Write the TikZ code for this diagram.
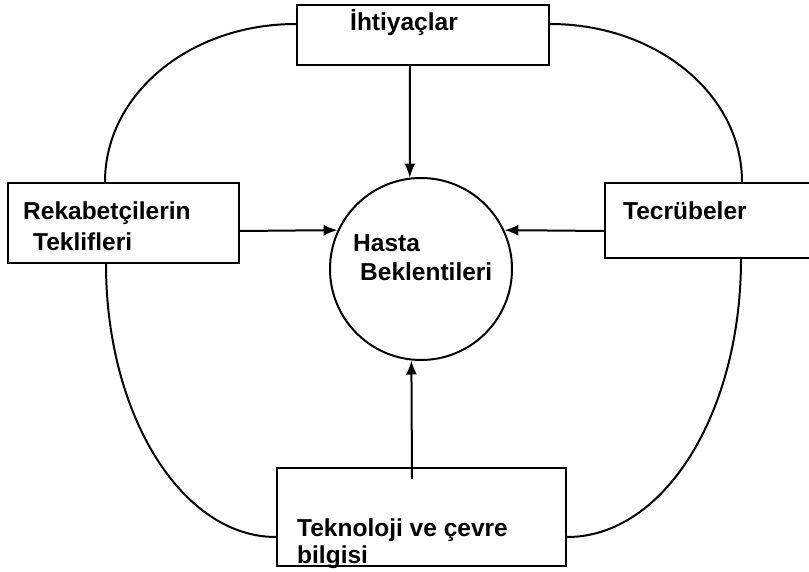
\documentclass[tikz,border=0pt]{standalone}
\usepackage{fontspec}
\setmainfont{Liberation Sans}
\usetikzlibrary{arrows.meta}
\begin{document}
\begin{tikzpicture}[x=1pt,y=-1pt,
  box/.style={draw,line width=2.2pt,inner sep=0pt,minimum width=#1},
  lbl/.style={inner sep=0pt,anchor=base west,font=\bfseries\fontsize{24.5}{29}\selectfont},
  ln/.style={line width=2pt},
  arr/.style={line width=2pt,-{Latex[length=14pt,width=11pt]}}]
\useasboundingbox (0,0) rectangle (809,572);
\fill[white] (0,0) rectangle (809,572);
% boxes
\node[box=252pt,minimum height=60pt] (ihti) at (423,35) {};
\node[box=231pt,minimum height=80pt] (lbox) at (123.5,223) {};
\node[box=235pt,minimum height=75pt] (rbox) at (722.5,220.5) {};
\node[box=289pt,minimum height=98pt] (tbox) at (421.5,517) {};
\node[draw,circle,line width=2pt,minimum size=182pt,inner sep=0pt] (circ) at (421,269) {};
% texts
\node[lbl] (t1) at (350,31) {İhtiyaçlar};
\node[lbl] (t2) at (23,220) {Rekabetçilerin};
\node[lbl] (t3) at (33,251) {Teklifleri};
\node[lbl] (t4) at (623,220) {Tecrübeler};
\node[lbl] (t5) at (353,252) {Hasta};
\node[lbl] (t6) at (360,281) {Beklentileri};
\node[lbl] (t7) at (297,536) {Teknoloji ve çevre};
\node[lbl] (t8) at (297,563) {bilgisi};
% arrows
\draw[arr] ([xshift=-13pt]ihti.south) -- (circ.97);
\draw[arr] ([yshift=-8pt]lbox.east) -- (circ.155);
\draw[arr] ([yshift=-10.5pt]rbox.west) -- (circ.25);
\draw[arr] ([xshift=-9.5pt,yshift=-12pt]tbox.north) -- (circ.264);
% curves
\draw[ln] ([yshift=11pt]ihti.west) .. controls +(-106,0) and +(0,-88) .. ([xshift=-18.5pt]lbox.north);
\draw[ln] ([yshift=11pt]ihti.east) .. controls +(106,0) and +(0,-88) .. ([xshift=19.5pt]rbox.north);
\draw[ln] ([xshift=-17.5pt]lbox.south) .. controls +(0,151) and +(-94,0) .. ([yshift=-20pt]tbox.west);
\draw[ln] ([xshift=18.5pt]rbox.south) .. controls +(0,154) and +(97,0) .. ([yshift=-20pt]tbox.east);
\end{tikzpicture}
\end{document}
